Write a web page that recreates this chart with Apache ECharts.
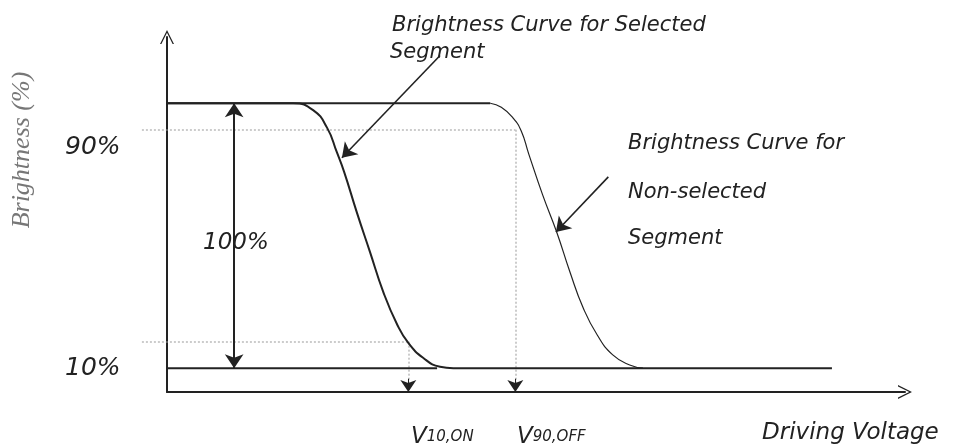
<!DOCTYPE html>
<html>
<head>
<meta charset="utf-8">
<script src="https://cdn.jsdelivr.net/npm/echarts@6/dist/echarts.min.js"></script>
<style>
  html, body { margin: 0; padding: 0; background: #fff; }
  #chart { width: 954px; height: 448px; }
</style>
</head>
<body>
<div id="chart"></div>
<script>
// brightness (%) vs driving voltage (arbitrary units)
const selectedCurve = [
  [0, 100], [1.71, 100], [1.98, 97.4], [2.17, 90.7], [2.30, 81.6], [2.40, 74.1],
  [2.57, 59.0], [2.75, 43.9], [2.93, 28.8], [3.12, 16.4], [3.27, 9.5],
  [3.47, 3.9], [3.70, 0.5], [3.88, 0], [9.01, 0]
];
const nonSelectedCurve = [
  [4.38, 100], [4.53, 98.5], [4.69, 94.4], [4.80, 89.5], [4.90, 81.0],
  [5.09, 65.4], [5.28, 51.4], [5.46, 36.3], [5.64, 22.7], [5.83, 12.5],
  [6.04, 5.0], [6.27, 1.2], [6.45, 0]
];
const plateau = [[0, 100], [4.38, 100]];
const baseline = [[0, 0], [3.66, 0]];
const dottedLevels = [90, 10];
const thresholdVoltages = [4.72, 3.27];   // V90,OFF  V10,ON
const rangeArrowV = 0.91;
const calloutArrows = [
  [[3.70, 118], [2.37, 79.4]],
  [[5.98, 72.2], [5.27, 51.4]]
];

const hand = 'DejaVu Sans';
const ink = '#222';
const chevron = 'path://M0,10L5,0L10,10L9,10L5,2L1,10Z';

const chart = echarts.init(document.getElementById('chart'), null, { renderer: 'canvas' });

const dottedLines = [];
dottedLevels.forEach((lvl, i) => {
  dottedLines.push({ coords: [[-0.34, lvl], [thresholdVoltages[i], lvl]] });
  dottedLines.push({ coords: [[thresholdVoltages[i], lvl], [thresholdVoltages[i], -8]] });
});
// solid heads on the dotted drops
const dropHeads = thresholdVoltages.map((v) => ({ coords: [[v, -4], [v, -9]] }));

const option = {
  animation: false,
  grid: { left: 167, right: 49, top: 37, bottom: 56 },
  xAxis: {
    type: 'value', min: 0, max: 10,
    axisLine: {
      onZero: false,
      symbol: ['none', chevron], symbolSize: [16, 14],
      lineStyle: { color: ink, width: 2 }
    },
    axisTick: { show: false }, axisLabel: { show: false }, splitLine: { show: false }
  },
  yAxis: {
    type: 'value', min: -9, max: 125,
    axisLine: {
      show: true,
      symbol: ['none', chevron], symbolSize: [16, 14],
      lineStyle: { color: ink, width: 2 }
    },
    axisTick: { show: false }, axisLabel: { show: false }, splitLine: { show: false }
  },
  series: [
    {
      type: 'lines', coordinateSystem: 'cartesian2d', clip: false,
      lineStyle: { color: '#999', width: 2, type: [2, 2] },
      data: dottedLines
    },
    {
      type: 'lines', coordinateSystem: 'cartesian2d', clip: false,
      symbol: ['none', 'arrow'], symbolSize: 12,
      lineStyle: { color: ink, width: 1, opacity: 1 },
      data: dropHeads
    },
    {
      type: 'line', data: plateau, symbol: 'none',
      lineStyle: { color: ink, width: 2 }
    },
    {
      type: 'line', data: baseline, symbol: 'none',
      lineStyle: { color: ink, width: 2 }
    },
    {
      name: 'Selected', type: 'line', data: selectedCurve, symbol: 'none',
      smooth: 0.5,
      lineStyle: { color: ink, width: 2 }
    },
    {
      name: 'Non-selected', type: 'line', data: nonSelectedCurve, symbol: 'none',
      smooth: 0.5,
      lineStyle: { color: ink, width: 1.2 }
    },
    {
      type: 'lines', coordinateSystem: 'cartesian2d', clip: false,
      symbol: ['arrow', 'arrow'], symbolSize: 14,
      lineStyle: { color: ink, width: 2, opacity: 1 },
      data: [{ coords: [[rangeArrowV, 100], [rangeArrowV, 0]] }]
    },
    {
      type: 'lines', coordinateSystem: 'cartesian2d', clip: false,
      symbol: ['none', 'arrow'], symbolSize: 14,
      lineStyle: { color: ink, width: 1.6, opacity: 1 },
      data: calloutArrows.map((c) => ({ coords: c }))
    }
  ],
  graphic: [
    { type: 'text', x: 22, y: 150, rotation: Math.PI / 2,
      style: { text: 'Brightness (%)', fontFamily: 'Liberation Serif', fontStyle: 'italic',
        fontSize: 26, fill: '#777', align: 'center', verticalAlign: 'middle' } },
    { type: 'text', x: 392, y: 26,
      style: { text: 'Brightness Curve for Selected', fontFamily: hand, fontStyle: 'italic',
        fontSize: 21, fill: ink, verticalAlign: 'middle' } },
    { type: 'text', x: 390, y: 53,
      style: { text: 'Segment', fontFamily: hand, fontStyle: 'italic',
        fontSize: 21, fill: ink, verticalAlign: 'middle' } },
    { type: 'text', x: 628, y: 144,
      style: { text: 'Brightness Curve for', fontFamily: hand, fontStyle: 'italic',
        fontSize: 21, fill: ink, verticalAlign: 'middle' } },
    { type: 'text', x: 628, y: 193,
      style: { text: 'Non-selected', fontFamily: hand, fontStyle: 'italic',
        fontSize: 21, fill: ink, verticalAlign: 'middle' } },
    { type: 'text', x: 628, y: 239,
      style: { text: 'Segment', fontFamily: hand, fontStyle: 'italic',
        fontSize: 21, fill: ink, verticalAlign: 'middle' } },
    { type: 'text', x: 65, y: 147,
      style: { text: '90%', fontFamily: hand, fontStyle: 'italic',
        fontSize: 25, fill: ink, verticalAlign: 'middle' } },
    { type: 'text', x: 65, y: 368,
      style: { text: '10%', fontFamily: hand, fontStyle: 'italic',
        fontSize: 25, fill: ink, verticalAlign: 'middle' } },
    { type: 'text', x: 203, y: 243,
      style: { text: '100%', fontFamily: hand, fontStyle: 'italic',
        fontSize: 23, fill: ink, verticalAlign: 'middle' } },
    { type: 'text', x: 411, y: 437,
      style: { text: '{v|V}{s|10,ON}', verticalAlign: 'middle', fill: ink,
        rich: {
          v: { fontFamily: hand, fontStyle: 'italic', fontSize: 23, fill: ink },
          s: { fontFamily: hand, fontStyle: 'italic', fontSize: 15, fill: ink }
        } } },
    { type: 'text', x: 517, y: 437,
      style: { text: '{v|V}{s|90,OFF}', verticalAlign: 'middle', fill: ink,
        rich: {
          v: { fontFamily: hand, fontStyle: 'italic', fontSize: 23, fill: ink },
          s: { fontFamily: hand, fontStyle: 'italic', fontSize: 15, fill: ink }
        } } },
    { type: 'text', x: 762, y: 433,
      style: { text: 'Driving Voltage', fontFamily: hand, fontStyle: 'italic',
        fontSize: 23, fill: ink, verticalAlign: 'middle' } }
  ]
};

chart.setOption(option);
</script>
</body>
</html>
